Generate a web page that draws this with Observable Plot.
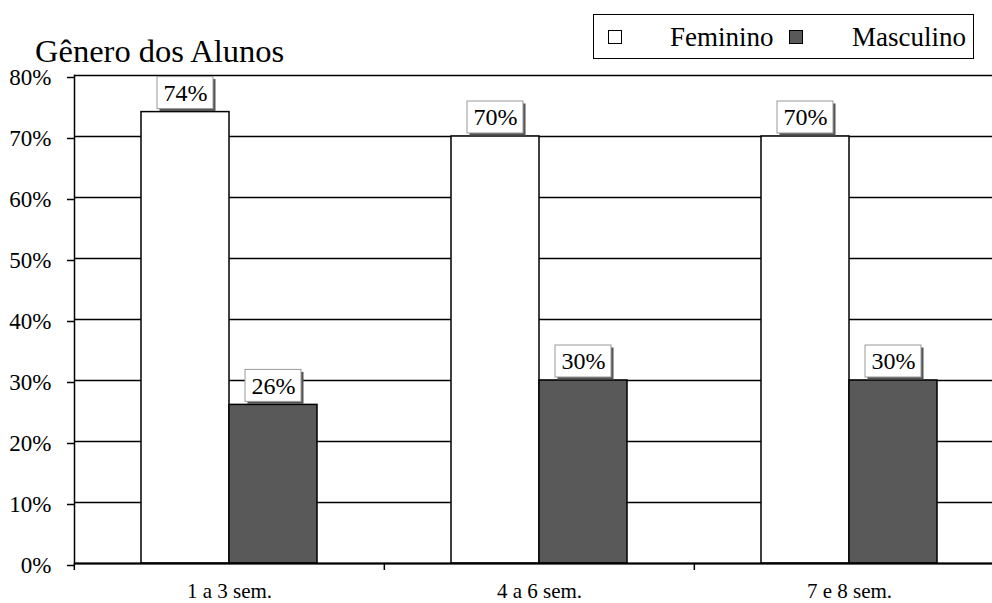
<!DOCTYPE html>
<html><head><meta charset="utf-8">
<script src="https://cdn.jsdelivr.net/npm/d3@7"></script>
<script src="https://cdn.jsdelivr.net/npm/@observablehq/plot@0.6"></script>
<style>
body{margin:0;overflow:hidden;background:#fff;font-family:"Liberation Serif","Times New Roman",Times,serif;}
#wrap{position:relative;width:992px;height:603px;overflow:hidden;background:#fff;}
#chart{position:absolute;left:0;top:0;width:1004px;}
.t{position:absolute;line-height:1;white-space:nowrap;color:#000;font-family:"Liberation Serif","Times New Roman",Times,serif;}
#title{left:35px;top:34.8px;font-size:32.5px;}
#legend{position:absolute;left:593px;top:14px;width:381px;height:45px;border:1.5px solid #000;box-sizing:border-box;background:#fff;}
.sw{position:absolute;width:14px;height:14px;border:1.5px solid #000;box-sizing:border-box;top:30px;}
.lt{font-size:27px;top:24.4px;}
</style></head>
<body><div id="wrap"><div id="chart"></div>
<div id="title" class="t">Gênero dos Alunos</div>
<div id="legend"></div>
<div class="sw" id="sw0" style="left:608px;"></div>
<div class="t lt" id="lt0" style="left:670px;"></div>
<div class="sw" id="sw1" style="left:789px;"></div>
<div class="t lt" id="lt1" style="left:852px;"></div>
</div>
<script>
const categories = ["1 a 3 sem.", "4 a 6 sem.", "7 e 8 sem."];
const series = ["Feminino", "Masculino"];
const feminino = [0.74, 0.70, 0.70];
const masculino = [0.26, 0.30, 0.30];
const yTicks = [0, 0.1, 0.2, 0.3, 0.4, 0.5, 0.6, 0.7, 0.8];
const colors = ["#ffffff", "#595959"];

const data = categories.flatMap((c, i) => [
  {cat: c, serie: series[0], value: feminino[i]},
  {cat: c, serie: series[1], value: masculino[i]}
]);
const pct = d3.format(".0%");
const FF = '"Liberation Serif","Times New Roman",Times,serif';

const W = 1004, ML = 73, MR = 0;
const step = (W - ML - MR) / categories.length;

const chart = Plot.plot({
  width: W, height: 603,
  marginLeft: ML, marginRight: MR, marginTop: 75, marginBottom: 40,
  style: {fontFamily: FF, background: "white", color: "black", overflow: "visible", maxWidth: "none"},
  fx: {domain: categories, padding: 0, label: null},
  x: {domain: series, paddingInner: 0, paddingOuter: 0.743, axis: null},
  y: {domain: [0, 0.8], label: null},
  color: {domain: series, range: colors},
  marks: [
    Plot.ruleY(yTicks, {stroke: "black", strokeWidth: 1.4}),
    Plot.barY(data, {fx: "cat", x: "serie", y: "value", fill: "serie", stroke: "black", strokeWidth: 1.5}),
    Plot.ruleY([0], {stroke: "black", strokeWidth: 2}),
    Plot.axisY(yTicks, {tickFormat: pct, tickSize: 7, tickPadding: 16, fontSize: 23, fontFamily: FF, dy: 2, strokeWidth: 1.5, label: null}),
    Plot.frame({anchor: "left", facetAnchor: "left", stroke: "black", strokeWidth: 1.5}),
    Plot.axisFx({anchor: "bottom", tickSize: 0, tickPadding: 20, fontSize: 21, fontFamily: FF, label: null}),
    Plot.axisFx({anchor: "bottom", tickSize: 7, tickFormat: () => "", dx: -step / 2, strokeWidth: 1.5, label: null}),
    Plot.barY(data, {fx: "cat", x: "serie", y1: "value", y2: "value", insetTop: -35, insetBottom: 3, insetLeft: 16, insetRight: 16, fill: "#555", dx: 2.5, dy: 2.5}),
    Plot.barY(data, {fx: "cat", x: "serie", y1: "value", y2: "value", insetTop: -35, insetBottom: 3, insetLeft: 16, insetRight: 16, fill: "white", stroke: "#999", strokeWidth: 1}),
    Plot.text(data, {fx: "cat", x: "serie", y: "value", text: d => pct(d.value), dy: -19, fontSize: 24, fontFamily: FF, fill: "black"})
  ]
});
document.getElementById("chart").appendChild(chart);
document.getElementById("sw0").style.background = colors[0];
document.getElementById("sw1").style.background = colors[1];
document.getElementById("lt0").textContent = series[0];
document.getElementById("lt1").textContent = series[1];
</script>
</body></html>
